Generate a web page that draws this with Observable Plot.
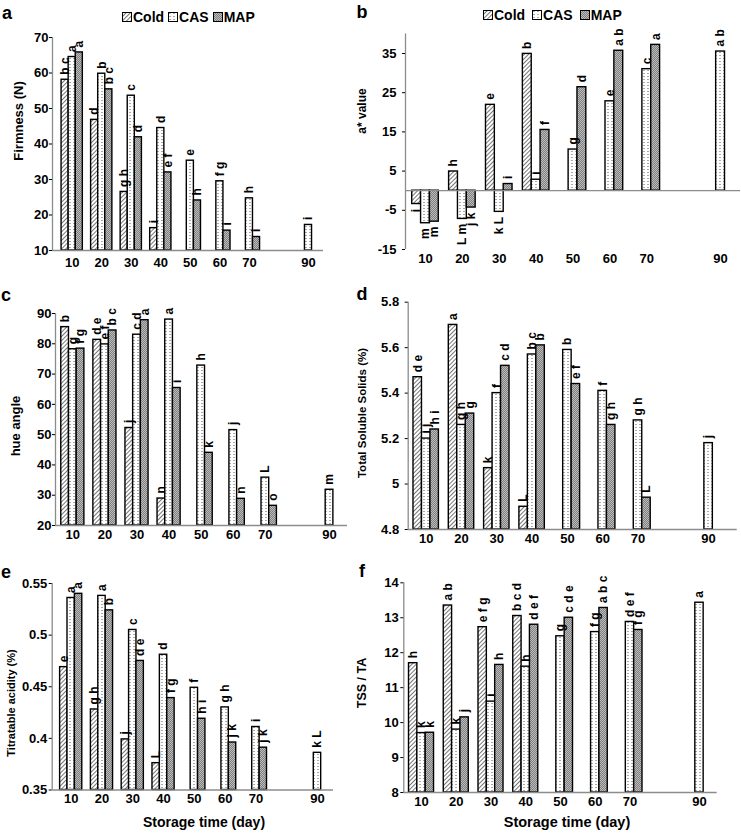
<!DOCTYPE html>
<html><head><meta charset="utf-8">
<script src="https://cdn.jsdelivr.net/npm/d3@7"></script>
<script src="https://cdn.jsdelivr.net/npm/@observablehq/plot@0.6"></script>
<style>
body{margin:0;background:#fff;}
#root{position:relative;width:741px;height:835px;overflow:hidden;font-family:"Liberation Sans",Arial,sans-serif;}
.abs{position:absolute;white-space:nowrap;font-weight:bold;color:#000;line-height:1;}
.panel{position:absolute;}
.legend{position:absolute;display:flex;align-items:center;font-weight:bold;white-space:nowrap;}
.legend svg{display:block;}
</style></head><body>
<svg width="0" height="0" style="position:absolute">
  <defs>
    <pattern id="pCold" patternUnits="userSpaceOnUse" width="3" height="3" patternTransform="rotate(45)">
      <rect width="3" height="3" fill="#fff"/>
      <line x1="0.5" y1="0" x2="0.5" y2="3" stroke="#666" stroke-width="0.9"/>
    </pattern>
    <pattern id="pCAS" patternUnits="userSpaceOnUse" width="4" height="3">
      <rect width="4" height="3" fill="#fff"/>
      <rect x="1.5" y="1" width="1" height="1" fill="#555"/>
    </pattern>
    <pattern id="pMAP" patternUnits="userSpaceOnUse" width="2" height="2">
      <rect width="2" height="2" fill="#808080"/>
      <rect width="1" height="1" fill="#bbbbbb"/>
      <rect x="1" y="1" width="1" height="1" fill="#bbbbbb"/>
    </pattern>
  </defs>
</svg>
<div id="root"></div>
<script>
// ---------- data ----------
const days = [10, 20, 30, 40, 50, 60, 70, 90];
const seriesNames = ["Cold", "CAS", "MAP"];
const seriesFills = ["url(#pCold)", "url(#pCAS)", "url(#pMAP)"];

// a: Firmness (N)
const firmCold = [58.1, 46.8, 26.5, 16.3];
const firmCAS  = [64.5, 59.8, 53.6, 44.5, 35.3, 29.5, 24.7, 17.2];
const firmMAP  = [65.8, 55.4, 41.9, 32.0, 24.1, 15.6, 13.8];
const firmLetCold = ["b c", "d", "g h", "i"];
const firmLetCAS  = ["a", "b", "c", "d", "e", "f g", "h", "i"];
const firmLetMAP  = ["a", "b c", "d", "e f", "h", "i", "i"];
const firmTicks = [10, 20, 30, 40, 50, 60, 70];

// b: a* value
const aCold = [-3.4, 4.9, 21.9, 34.9];
const aCAS  = [-8.3, -7.2, -5.4, 2.8, 10.5, 22.8, 31.0, 35.5];
const aMAP  = [-7.9, -4.3, 1.7, 15.5, 26.4, 35.7, 37.2];
const aLetCold = ["i", "h", "e", "b"];
const aLetCAS  = ["m", "L m", "k L", "i", "g", "e", "c", "a b"];
const aLetMAP  = ["m", "j k", "i", "f", "d", "a b", "a"];
const aTicks = [-15, -5, 5, 15, 25, 35];

// c: hue angle
const hueCold = [85.5, 81.3, 52.2, 28.9];
const hueCAS  = [78.2, 79.8, 83.0, 88.0, 72.8, 51.5, 35.8, 31.8];
const hueMAP  = [78.4, 84.4, 87.8, 65.4, 44.0, 28.8, 26.5];
const hueLetCold = ["b", "d e", "j", "n"];
const hueLetCAS  = ["g", "e f", "c d", "a", "h", "j", "L", "m"];
const hueLetMAP  = ["f g", "b c", "a", "i", "k", "n", "o"];
const hueTicks = [20, 30, 40, 50, 60, 70, 80, 90];

// d: Total Soluble Solids (%)
const tssCold = [5.47, 5.70, 5.07, 4.90];
const tssCAS  = [5.20, 5.26, 5.40, 5.57, 5.59, 5.41, 5.28, 5.18];
const tssMAP  = [5.24, 5.31, 5.52, 5.61, 5.44, 5.26, 4.94];
const tssLetCold = ["d e", "a", "k", "L"];
const tssLetCAS  = ["i j", "g h", "f", "b c", "b", "f", "g h", "j"];
const tssLetMAP  = ["h i", "g", "c d", "b", "e f", "g h", "L"];
const tssTicks = [4.8, 5.0, 5.2, 5.4, 5.6, 5.8];

// e: Titratable acidity (%)
const taCold = [0.469, 0.428, 0.399, 0.376];
const taCAS  = [0.536, 0.538, 0.505, 0.481, 0.449, 0.430, 0.411, 0.386];
const taMAP  = [0.540, 0.524, 0.475, 0.439, 0.419, 0.396, 0.391];
const taLetCold = ["e", "g h", "j", "L"];
const taLetCAS  = ["a", "a", "c", "d", "f", "g h", "i", "k L"];
const taLetMAP  = ["a", "b", "d e", "f g", "h i", "j k", "j k"];
const taTicks = [0.35, 0.40, 0.45, 0.50, 0.55];

// f: TSS / TA
const ratioCold = [11.70, 13.35, 12.73, 13.05];
const ratioCAS  = [9.70, 9.80, 10.60, 11.60, 12.47, 12.59, 12.88, 13.43];
const ratioMAP  = [9.71, 10.15, 11.65, 12.80, 13.00, 13.28, 12.65];
const ratioLetCold = ["h", "a b", "e f g", "b c d"];
const ratioLetCAS  = ["k", "k", "i", "h", "g", "f g", "d e f", "a"];
const ratioLetMAP  = ["k", "j", "h", "d e f", "c d e", "a b c", "f g"];
const ratioTicks = [8, 9, 10, 11, 12, 13, 14];

// ---------- helpers ----------
const BAR = 2.4; // bar width in days
function buildRows(vals, lets) {
  const rows = [];
  days.forEach((day, j) => seriesNames.forEach((s, i) => {
    const v = vals[i][j];
    if (v == null) return;
    rows.push({day, series: s, idx: i, value: v, letter: lets[i][j]});
  }));
  return rows;
}

const root = document.getElementById("root");

function makePanel(cfg) {
  const rows = buildRows(cfg.vals, cfg.lets);
  const base = cfg.base;
  const pos = rows.filter(d => d.value >= base);
  const neg = rows.filter(d => d.value < base);
  const textOpts = {
    x: d => d.day + (d.idx - 1) * BAR, y: "value", text: "letter",
    rotate: -90, lineAnchor: "middle", fontSize: 12, fontWeight: "bold"
  };
  const chart = Plot.plot({
    width: cfg.w, height: cfg.h,
    marginLeft: cfg.ml, marginRight: cfg.mr, marginTop: cfg.mt, marginBottom: cfg.mb,
    style: {fontFamily: "Liberation Sans, Arial, sans-serif", background: "transparent", overflow: "visible", color: "#000"},
    x: {domain: cfg.xd},
    y: {domain: cfg.yd},
    color: {type: "ordinal", domain: seriesNames, range: seriesFills},
    marks: [
      Plot.ruleX([cfg.xd[0]], {stroke: "#8c8c8c", strokeWidth: 1.3}),
      Plot.rect(rows, {
        x1: d => d.day + (d.idx - 1.5) * BAR,
        x2: d => d.day + (d.idx - 0.5) * BAR,
        y1: d => base, y2: "value",
        fill: "series", stroke: "#000", strokeWidth: 1.4
      }),
      Plot.ruleY([base], {stroke: "#8c8c8c", strokeWidth: 1.3}),
      Plot.text(pos, {...textOpts, textAnchor: "start", dy: -5}),
      Plot.text(neg, {...textOpts, textAnchor: "end", dy: 5}),
      Plot.axisY({ticks: cfg.yt, tickSize: 3, tickPadding: cfg.ytp, tickFormat: cfg.fmt,
        fontSize: 13, fontWeight: "bold", label: null}),
      Plot.axisX({ticks: days, tickSize: 0, tickPadding: cfg.xtp, tickFormat: d => String(d),
        fontSize: 13, fontWeight: "bold", label: null})
    ]
  });
  chart.classList.add("panel");
  chart.style.left = cfg.left + "px";
  chart.style.top = cfg.top + "px";
  root.appendChild(chart);
}

function addText(txt, cx, cy, size, rotate) {
  const el = document.createElement("div");
  el.className = "abs";
  el.textContent = txt;
  el.style.fontSize = size + "px";
  el.style.left = cx + "px";
  el.style.top = cy + "px";
  el.style.transform = "translate(-50%,-50%)" + (rotate ? " rotate(-90deg)" : "");
  root.appendChild(el);
}

function addLegend(left, cy, size, gapAfterSwatch, gapAfterText) {
  const lg = document.createElement("div");
  lg.className = "legend";
  lg.style.left = left + "px";
  lg.style.top = (cy - 8) + "px";
  lg.style.height = "16px";
  lg.style.fontSize = size + "px";
  seriesNames.forEach((s, i) => {
    const sw = document.createElementNS("http://www.w3.org/2000/svg", "svg");
    sw.setAttribute("width", 10); sw.setAttribute("height", 10);
    sw.innerHTML = `<rect x="0.5" y="0.5" width="9" height="9" fill="${seriesFills[i]}" stroke="#000" stroke-width="1"/>`;
    sw.style.marginRight = gapAfterSwatch + "px";
    lg.appendChild(sw);
    const t = document.createElement("span");
    t.textContent = s;
    t.style.marginRight = (i < 2 ? gapAfterText : 0) + "px";
    lg.appendChild(t);
  });
  root.appendChild(lg);
}

const f1 = d => String(+d.toFixed(1));
const f2 = d => String(+d.toFixed(2));

// ---------- panels ----------
makePanel({left: 0, top: 0, w: 370, h: 270, ml: 52, mr: 47, mt: 37, mb: 20,
  xd: [3.33, 95.08], yd: [10, 70], base: 10, yt: firmTicks, ytp: 1, xtp: 7.5, fmt: d => String(d),
  vals: [firmCold, firmCAS, firmMAP], lets: [firmLetCold, firmLetCAS, firmLetMAP]});

makePanel({left: 370, top: 0, w: 371, h: 270, ml: 35, mr: 1, mt: 33.4, mb: 21,
  xd: [4.58, 95.4], yd: [-15, 40], base: 0, yt: aTicks, ytp: 6, xtp: 4, fmt: d => String(d),
  vals: [aCold, aCAS, aMAP], lets: [aLetCold, aLetCAS, aLetMAP]});

makePanel({left: 0, top: 270, w: 370, h: 270, ml: 55, mr: 23, mt: 43, mb: 15,
  xd: [4.6, 95.6], yd: [20, 90], base: 20, yt: hueTicks, ytp: 1, xtp: 4, fmt: d => String(d),
  vals: [hueCold, hueCAS, hueMAP], lets: [hueLetCold, hueLetCAS, hueLetMAP]});

makePanel({left: 370, top: 270, w: 371, h: 270, ml: 37.7, mr: 4.3, mt: 31.7, mb: 11,
  xd: [4.9, 98.1], yd: [4.8, 5.8], base: 4.8, yt: tssTicks, ytp: 6, xtp: 4, fmt: f1,
  vals: [tssCold, tssCAS, tssMAP], lets: [tssLetCold, tssLetCAS, tssLetMAP]});

makePanel({left: 0, top: 540, w: 370, h: 295, ml: 51.7, mr: 37, mt: 43, mb: 45.5,
  xd: [3.83, 95.2], yd: [0.35, 0.55], base: 0.35, yt: taTicks, ytp: 2, xtp: 4, fmt: f2,
  vals: [taCold, taCAS, taMAP], lets: [taLetCold, taLetCAS, taLetMAP]});

makePanel({left: 370, top: 540, w: 371, h: 295, ml: 33.3, mr: 24.3, mt: 42.3, mb: 43,
  xd: [4.9, 95.1], yd: [8, 14], base: 8, yt: ratioTicks, ytp: 2, xtp: 4.5, fmt: d => String(d),
  vals: [ratioCold, ratioCAS, ratioMAP], lets: [ratioLetCold, ratioLetCAS, ratioLetMAP]});

// ---------- panel letters ----------
addText("a", 7, 13, 18);
addText("b", 362, 12, 18);
addText("c", 6, 295, 18);
addText("d", 362, 294, 18);
addText("e", 6, 572, 18);
addText("f", 362, 571, 18);

// ---------- axis titles ----------
addText("Firmness (N)", 18, 121, 13, true);
addText("a* value", 362, 111, 12, true);
addText("hue angle", 15, 426, 13, true);
addText("Total Soluble Solids (%)", 363, 413, 11.5, true);
addText("Titratable acidity (%)", 11, 703, 11, true);
addText("TSS / TA", 362, 683, 12.5, true);
addText("Storage time (day)", 204, 822, 14);
addText("Storage time (day)", 567, 822, 14.5);

// ---------- legends ----------
addLegend(122, 17, 14, 1, 4);
addLegend(483, 15, 14, 1, 7);
</script>
</body></html>
